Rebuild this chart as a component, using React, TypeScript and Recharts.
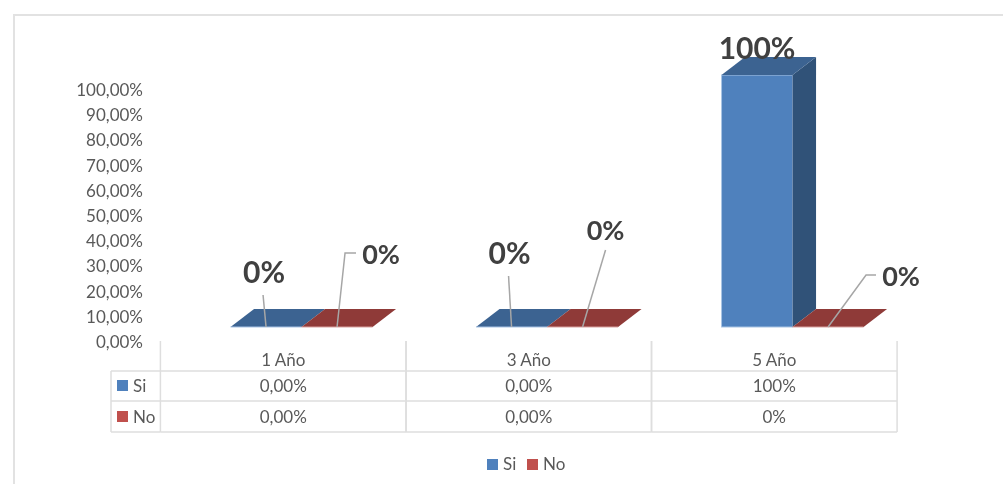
import React from 'react';
import { BarChart, Bar, XAxis, YAxis, Legend, LabelList } from 'recharts';

const categories = ['1 Año', '3 Año', '5 Año'];
const siValues = [0, 0, 1];
const noValues = [0, 0, 0];
const siLabels = ['0%', '0%', '100%'];
const noLabels = ['0%', '0%', '0%'];
const siTableRow = ['0,00%', '0,00%', '100%'];
const noTableRow = ['0,00%', '0,00%', '0%'];
const yTicks = [0, 0.1, 0.2, 0.3, 0.4, 0.5, 0.6, 0.7, 0.8, 0.9, 1];

const chartData = categories.map((name, i) => ({
  name,
  si: siValues[i],
  no: noValues[i],
  siLabel: siLabels[i],
  noLabel: noLabels[i],
}));

const FONT = 'Lato, sans-serif';
const TEXT = '#595959';
const GRID = '#dedede';
const BLUE = { front: '#4f81bd', top: '#3c6391', side: '#305278', edge: '#a9c4e4' };
const RED = { front: '#c0504d', top: '#8f3a38', side: '#7a2f2d', edge: '#d9a3a1' };

// 3D extrusion of the columns
const DEPTH_X = 23.5;
const DEPTH_Y = 18;
// the table and the y labels sit off the front plane of the columns
const TABLE_SHIFT = 18;
const TICK_SHIFT = 14.5;
const CELL_W = 245.7;

// label placement relative to the foot of the column centre; line = leader line points
const siCallouts = [
  { dx: -2, dy: -56, size: 30, line: [[0, 0], [-3, -32]] },
  { dx: -2, dy: -75, size: 30, line: [[0, 0], [-3, -51]] },
  { dx: 0, dy: -280, size: 30, line: [] },
];
const noCallouts = [
  { dx: 44, dy: -74, size: 27, line: [[0, 0], [8, -74], [19, -74]] },
  { dx: 23, dy: -98, size: 27, line: [[0, 0], [23, -77]] },
  { dx: 73, dy: -52, size: 27, line: [[0, 0], [38, -52], [48, -52]] },
];

const Column3D = (props: any) => {
  const { x, y, width, height, colors } = props;
  const bottom = y + height;
  const right = x + width;
  return (
    <g>
      {height > 0 && (
        <>
          <rect x={x} y={y} width={width} height={height} fill={colors.front} stroke={colors.edge} strokeWidth={1} />
          <polygon
            points={`${right},${y} ${right + DEPTH_X},${y - DEPTH_Y} ${right + DEPTH_X},${bottom - DEPTH_Y} ${right},${bottom}`}
            fill={colors.side}
          />
        </>
      )}
      <polygon
        points={`${x},${y} ${x + DEPTH_X},${y - DEPTH_Y} ${right + DEPTH_X},${y - DEPTH_Y} ${right},${y}`}
        fill={colors.top}
      />
      {height === 0 && <line x1={x} y1={y} x2={right} y2={y} stroke={colors.edge} strokeWidth={1} />}
    </g>
  );
};

const makeCallout = (callouts: typeof siCallouts) => (props: any) => {
  const box = props.viewBox ?? props;
  const c = callouts[props.index];
  const cx = box.x + box.width / 2;
  const foot = box.y + box.height;
  return (
    <g>
      {c.line.length > 0 && (
        <polyline
          points={c.line.map(([px, py]) => `${cx + px},${foot + py}`).join(' ')}
          fill="none"
          stroke="#a6a6a6"
          strokeWidth={1.5}
        />
      )}
      <text
        x={cx + c.dx}
        y={foot + c.dy}
        textAnchor="middle"
        dominantBaseline="central"
        fontFamily={FONT}
        fontWeight={700}
        fontSize={c.size}
        fill="#404040"
      >
        {props.value}
      </text>
    </g>
  );
};

const YTick = ({ y, payload }: any) => (
  <text x={143} y={y + TICK_SHIFT} textAnchor="end" dominantBaseline="central" fontFamily={FONT} fontSize={17} fill={TEXT}>
    {`${Math.round(payload.value * 100)},00%`}
  </text>
);

const cellText = (x: number, y: number, s: string, anchor: 'middle' | 'start' = 'middle') => (
  <text x={x} y={y} textAnchor={anchor} dominantBaseline="central" fontFamily={FONT} fontSize={17} fill={TEXT}>
    {s}
  </text>
);

// the data table hangs off the category axis, one column per tick
const TableTick = ({ x, payload, index }: any) => {
  const mid = x - TABLE_SHIFT;
  const left = mid - CELL_W / 2;
  const right = mid + CELL_W / 2;
  return (
    <g>
      <g stroke={GRID} strokeWidth={1.5}>
        <line x1={left} y1={341} x2={left} y2={432} />
        <line x1={right} y1={341} x2={right} y2={432} />
        {[371, 401, 432].map((ly) => (
          <line key={ly} x1={left} y1={ly} x2={right} y2={ly} />
        ))}
        {index === 0 && (
          <>
            <line x1={111} y1={371} x2={111} y2={432} />
            {[371, 401, 432].map((ly) => (
              <line key={ly} x1={111} y1={ly} x2={left} y2={ly} />
            ))}
          </>
        )}
      </g>
      {cellText(mid, 359.5, payload.value)}
      {cellText(mid, 385, siTableRow[index])}
      {cellText(mid, 416, noTableRow[index])}
      {index === 0 && (
        <>
          <rect x={117} y={380} width={11} height={11} fill={BLUE.front} />
          {cellText(133, 385, 'Si', 'start')}
          <rect x={117} y={411} width={11} height={11} fill={RED.front} />
          {cellText(133, 416, 'No', 'start')}
        </>
      )}
    </g>
  );
};

const LegendRow = () => (
  <div style={{ position: 'relative', height: 22, fontFamily: FONT, fontSize: 17, color: TEXT }}>
    <span style={{ position: 'absolute', left: 0, top: 6, width: 11, height: 11, background: BLUE.front }} />
    <span style={{ position: 'absolute', left: 16, top: 0 }}>Si</span>
    <span style={{ position: 'absolute', left: 40, top: 6, width: 11, height: 11, background: RED.front }} />
    <span style={{ position: 'absolute', left: 56, top: 0 }}>No</span>
  </div>
);

export default function App() {
  return (
    <div style={{ position: 'absolute', left: 0, top: 0, width: 1003, height: 484, background: '#fff', overflow: 'hidden', filter: 'blur(0.35px)' }}>
      <div style={{ position: 'absolute', left: 13, top: 14, right: 0, bottom: 0, borderLeft: '2px solid #e2e2e2', borderTop: '2px solid #e2e2e2' }} />
      <BarChart
        width={1003}
        height={484}
        data={chartData}
        margin={{ top: 75, right: 88, bottom: 0, left: 0 }}
        barCategoryGap="21.2%"
        barGap={0}
      >
        <XAxis dataKey="name" height={157} axisLine={false} tickLine={false} interval={0} tick={<TableTick />} />
        <YAxis width={178.5} domain={[0, 1]} ticks={yTicks} axisLine={false} tickLine={false} interval={0} tick={<YTick />} />
        <Legend
          verticalAlign="middle"
          layout="horizontal"
          content={<LegendRow />}
          wrapperStyle={{ position: 'absolute', left: 487, top: 453, width: 90, height: 22 }}
        />
        <Bar dataKey="si" name="Si" isAnimationActive={false} shape={<Column3D colors={BLUE} />}>
          <LabelList dataKey="siLabel" content={makeCallout(siCallouts)} />
        </Bar>
        <Bar dataKey="no" name="No" isAnimationActive={false} shape={<Column3D colors={RED} />}>
          <LabelList dataKey="noLabel" content={makeCallout(noCallouts)} />
        </Bar>
      </BarChart>
    </div>
  );
}
